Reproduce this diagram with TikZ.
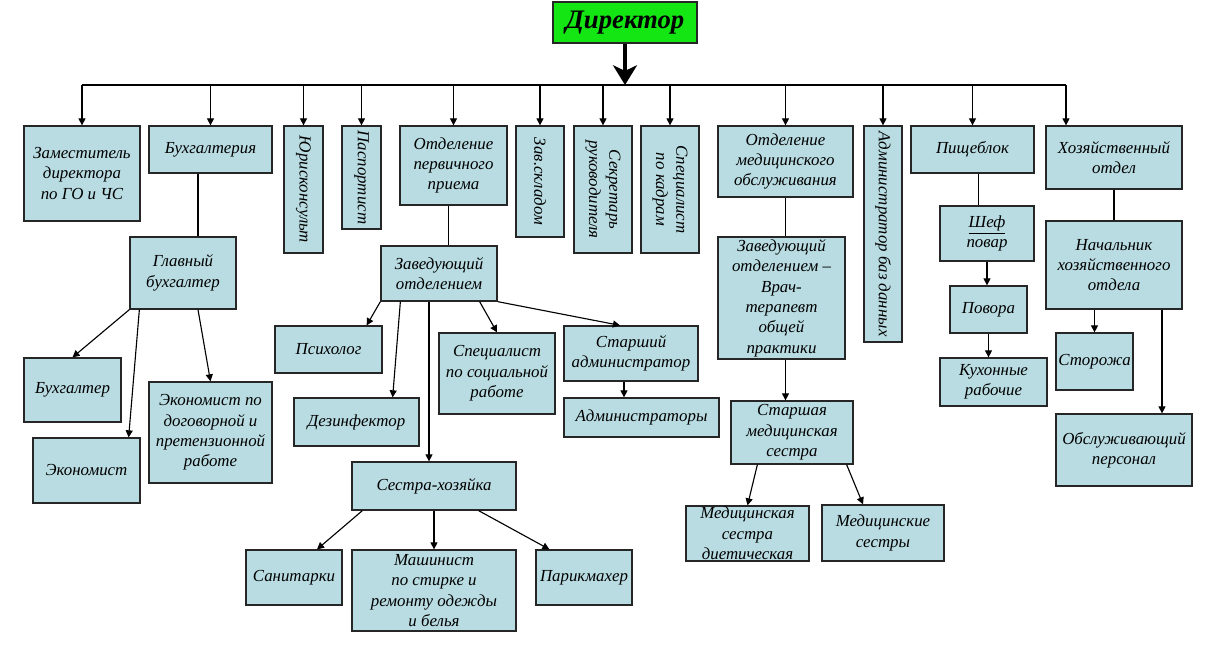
\documentclass[tikz,border=0pt]{standalone}
\usepackage{fontspec}
\setmainfont{Liberation Serif}
\usetikzlibrary{arrows.meta}
\definecolor{boxblue}{RGB}{184,220,226}
\definecolor{dirgreen}{RGB}{20,230,20}
\newcommand{\pxu}{0.025cm}

\begin{document}
\begin{tikzpicture}[x=0.025cm, y=-0.025cm,
  box/.style 2 args={draw=black!85, line width=0.9pt, fill=boxblue, align=center, inner sep=0pt,
    minimum width=#1*\pxu, minimum height=#2*\pxu, font=\itshape\fontsize{12}{14.5}\selectfont},
  vbox/.style 2 args={box={#2}{#1}, rotate=-90},
  arr/.style={-{Triangle[length=5pt,width=5pt]}, line width=0.8pt},
  link/.style={line width=0.8pt}]
\useasboundingbox (0,0) rectangle (1214,644);

\node [box={144}{41}, fill=dirgreen, font=\bfseries\itshape\fontsize{19}{21}\selectfont] (dir) at (625,22.5) {Директор};
\coordinate (busL) at (82,85);
\coordinate (busR) at (1066,85);

\node [box={116}{95}] (zam) at (82,173.5) {Заместитель\\директора\\по ГО и ЧС};
\node [box={123}{47}] (buh) at (210.5,149.5) {Бухгалтерия};
\node [vbox={39}{127}] (jur) at (303.5,189.5) {Юрисконсульт};
\node [vbox={39}{103}] (pasp) at (361.5,177.5) {Паспортист};
\node [box={107}{79}] (perv) at (453.5,165.5) {Отделение\\первичного\\приема};
\node [vbox={48}{111}] (sklad) at (540,181.5) {Зав.складом};
\node [vbox={58}{127}] (sekr) at (603,189.5) {Секретарь\\руководителя};
\node [vbox={58}{127}] (kadr) at (670,189.5) {Специалист\\по кадрам};
\node [box={135}{71}] (med) at (785.5,161.5) {Отделение\\медицинского\\обслуживания};
\node [vbox={38}{216}] (bd) at (883,234) {Администратор баз данных};
\node [box={123}{47}] (pish) at (972.5,149.5) {Пищеблок};
\node [box={136}{63}] (hoz) at (1114,157.5) {Хозяйственный\\отдел};

\node [box={106}{72}] (glbuh) at (183,273) {Главный\\бухгалтер};
\node [box={97}{64}] (buhg) at (72.5,390) {Бухгалтер};
\node [box={107}{65}] (econ) at (86.5,470.5) {Экономист};
\node [box={123}{101}] (dog) at (210.5,432.5) {Экономист по\\договорной и\\претензионной\\работе};

\node [box={116}{55}] (zavp) at (439,273.5) {Заведующий\\отделением};
\node [box={107}{47}] (psy) at (328.5,349.5) {Психолог};
\node [box={125}{48}] (dez) at (356.5,422) {Дезинфектор};
\node [box={116}{81}] (soc) at (497,373.5) {Специалист\\по социальной\\работе};
\node [box={134}{55}] (stadm) at (631,353.5) {Старший\\администратор};
\node [box={155}{39}] (adm) at (641.5,417.5) {Администраторы};
\node [box={164}{48}] (ses) at (434,486) {Сестра-хозяйка};
\node [box={96}{55}] (san) at (294,577.5) {Санитарки};
\node [box={164}{81}] (mash) at (434,590.5) {Машинист\\по стирке и\\ремонту одежды\\и белья};
\node [box={96}{55}] (parik) at (584,577.5) {Парикмахер};

\node [box={127}{122}] (vrach) at (781.5,298) {Заведующий\\отделением –\\Врач-\\терапевт\\общей\\практики};
\node [box={122}{63}] (stms) at (792,432.5) {Старшая\\медицинская\\сестра};
\node [box={123}{55}] (dieta) at (747.5,533.5) {Медицинская\\сестра\\диетическая};
\node [box={122}{56}] (msest) at (883,533) {Медицинские\\сестры};

\node [box={94}{55}] (shef) at (987,233.5) {\underline{Шеф}\\повар};
\node [box={77}{47}] (povar) at (988.5,309.5) {Повора};
\node [box={107}{48}] (kuh) at (993.5,382) {Кухонные\\рабочие};
\node [box={136}{88}] (nach) at (1114,265) {Начальник\\хозяйственного\\отдела};
\node [box={77}{57}] (stor) at (1094.5,361.5) {Сторожа};
\node [box={136}{72}] (obs) at (1124,450) {Обслуживающий\\персонал};

\draw [line width=2.8pt, -{Stealth[length=14pt,width=17pt,inset=4pt]}] (dir.south) -- (dir.south |- busL);
\draw [link] (busL) -- (busR);
\foreach \n in {zam,buh,jur,pasp,perv,sklad,sekr,kadr,med,bd,pish}
  \draw [arr] (busL -| \n) -- (\n);
\draw [arr] (busR) -- (busR |- hoz.north);

\draw [link] ([xshift=15*\pxu]glbuh.north) -- ([xshift=15*\pxu]glbuh.north |- buh.south);
\draw [arr] (glbuh.south west) -- (buhg.north);
\draw [arr] ([xshift=10*\pxu]glbuh.south west) -- ([xshift=-12*\pxu]econ.north east);
\draw [arr] ([xshift=15*\pxu]glbuh.south) -- (dog.north);

\draw [link] ([xshift=-5*\pxu]perv.south) -- ([xshift=-5*\pxu]perv.south |- zavp.north);
\draw [arr] (zavp.south west) -- ([xshift=-16*\pxu]psy.north east);
\draw [arr] ([xshift=20*\pxu]zavp.south west) -- ([xshift=-27*\pxu]dez.north east);
\draw [arr] ([xshift=-10*\pxu]zavp.south) -- ([xshift=-10*\pxu]zavp.south |- ses.north);
\draw [arr] ([xshift=-18*\pxu]zavp.south east) -- (soc.north);
\draw [arr] (zavp.south east) -- ([xshift=-11*\pxu]stadm.north);
\draw [arr] ([xshift=-7*\pxu]stadm.south) -- ([xshift=-7*\pxu]stadm.south |- adm.north);
\draw [arr] ([xshift=11*\pxu]ses.south west) -- ([xshift=23*\pxu]san.north);
\draw [arr] (ses.south) -- (mash.north);
\draw [arr] ([xshift=-38*\pxu]ses.south east) -- ([xshift=14*\pxu]parik.north west);

\draw [link] (med.south) -- (med.south |- vrach.north);
\draw [arr] (med.south |- vrach.south) -- (med.south |- stms.north);
\draw [arr] ([xshift=27*\pxu]stms.south west) -- (dieta.north);
\draw [arr] ([xshift=-7*\pxu]stms.south east) -- ([xshift=-20*\pxu]msest.north);

\draw [link] ([xshift=6*\pxu]pish.south) -- ([xshift=6*\pxu]pish.south |- shef.north);
\draw [arr] (shef.south) -- (shef.south |- povar.north);
\draw [arr] (povar.south) -- (povar.south |- kuh.north);
\draw [link] (hoz.south) -- (nach.north);
\draw [arr] (stor.north |- nach.south) -- (stor.north);
\draw [arr] ([xshift=48*\pxu]nach.south) -- ([xshift=48*\pxu]nach.south |- obs.north);
\end{tikzpicture}
\end{document}
